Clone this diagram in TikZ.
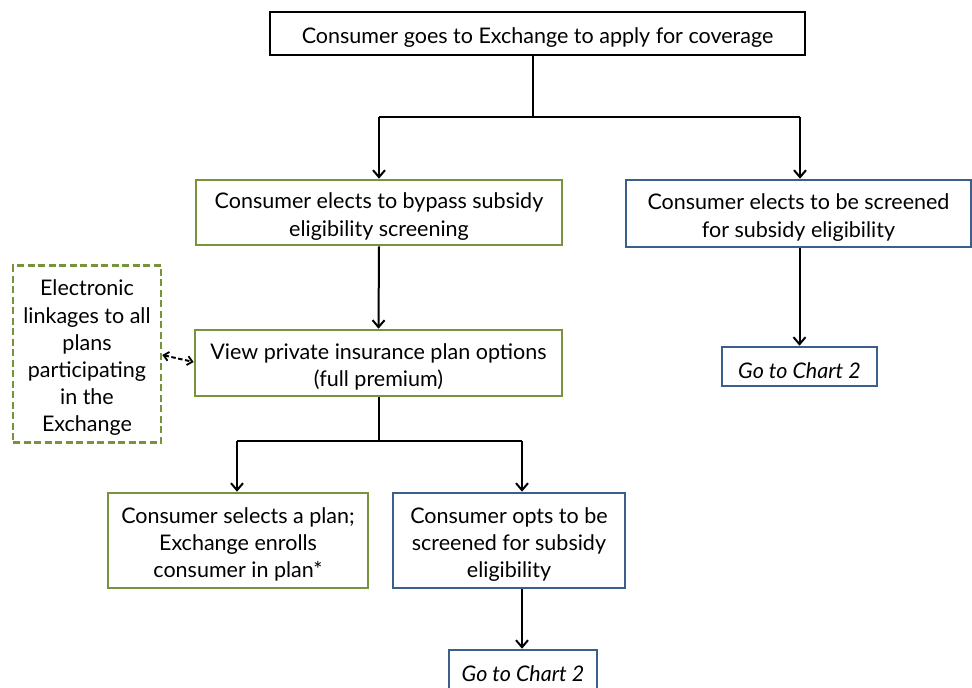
\documentclass[tikz,border=0pt]{standalone}
\usepackage{fontspec}
\setmainfont{Lato}
\usetikzlibrary{arrows.meta}
\definecolor{boxgreen}{HTML}{77933C}
\definecolor{boxblue}{HTML}{3A5F8B}
\tikzset{
  basebox/.style={rectangle, line width=2.6pt, inner sep=2pt},
  txt/.style={align=center, yshift=-4pt, inner sep=0pt,
    font=\fontsize{21.5}{27.2}\selectfont},
  itxt/.style={txt, font=\fontsize{21.5}{27.2}\selectfont\itshape},
  blackbox/.style={basebox, draw=black},
  greenbox/.style={basebox, draw=boxgreen},
  bluebox/.style={basebox, draw=boxblue},
  dashbox/.style={basebox, draw=boxgreen, dash pattern=on 7pt off 3.5pt},
  conn/.style={line width=2pt, draw=black},
  arr/.style={conn, -{Straight Barb[length=7pt,width=12pt,line width=2pt]}},
  darr/.style={line width=2pt, dash pattern=on 4.5pt off 2.5pt,
    {Straight Barb[length=5pt,width=9pt,line width=1.8pt]}-{Straight Barb[length=5pt,width=9pt,line width=1.8pt]}}
}
\begin{document}
\begin{tikzpicture}[x=1pt,y=-1pt]
\useasboundingbox (0,0) rectangle (972,688);

\node[blackbox, minimum width=535pt, minimum height=43pt,
  label={[txt]center:{Consumer goes to Exchange to apply for coverage}}] (top) at (537.5,33.5) {};

\node[greenbox, minimum width=366pt, minimum height=65pt,
  label={[txt]center:{Consumer elects to bypass subsidy\\eligibility screening}}] (bypass) at (379,212.5) {};

\node[bluebox, minimum width=345pt, minimum height=67pt,
  label={[txt]center:{Consumer elects to be screened\\for subsidy eligibility}}] (screen) at (798.5,213.5) {};

\node[bluebox, minimum width=155pt, minimum height=39pt,
  label={[itxt]center:{Go to Chart 2}}] (goto1) at (799.5,366.5) {};

\node[greenbox, minimum width=367pt, minimum height=66pt,
  label={[txt]center:{View private insurance plan options\\(full premium)}}] (view) at (378.5,363) {};

\node[dashbox, minimum width=148pt, minimum height=177pt,
  label={[txt]center:{Electronic\\linkages to all\\plans\\participating\\in the\\Exchange}}] (links) at (87,354) {};

\node[greenbox, minimum width=260pt, minimum height=95pt,
  label={[txt]center:{Consumer selects a plan;\\Exchange enrolls\\consumer in plan*}}] (select) at (238,540.5) {};

\node[bluebox, minimum width=232pt, minimum height=95pt,
  label={[txt]center:{Consumer opts to be\\screened for subsidy\\eligibility}}] (opts) at (509,540.5) {};

\node[bluebox, minimum width=148pt, minimum height=40pt,
  label={[itxt]center:{Go to Chart 2}}] (goto2) at (523,670) {};

\coordinate (j1) at (533,117);
\coordinate (j1l) at (379,117);
\coordinate (j1r) at (800,117);
\draw[conn] (top.south -| j1) -- (j1);
\draw[conn] (j1l) -- (j1r);
\draw[arr] (j1l) -- (bypass.north -| j1l);
\draw[arr] (j1r) -- (screen.north -| j1r);

\draw[arr] (bypass.south) -- (view.north);
\draw[arr] (screen.south -| goto1.north) -- (goto1.north);

\coordinate (j2) at (379,441);
\coordinate (j2l) at (237,441);
\coordinate (j2r) at (522,441);
\draw[conn] (view.south -| j2) -- (j2);
\draw[conn] (j2l) -- (j2r);
\draw[arr] (j2l) -- (select.north -| j2l);
\draw[arr] (j2r) -- (opts.north -| j2r);

\draw[arr] (opts.south -| j2r) -- (goto2.north -| j2r);

\draw[darr] (links.east |- 0,355) -- (view.west |- 0,362);
\end{tikzpicture}
\end{document}
